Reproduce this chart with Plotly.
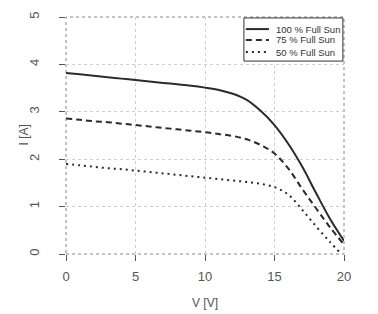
import plotly.graph_objects as go

V = [0, 1, 2, 3, 4, 5, 6, 7, 8, 9, 10, 11, 12, 13, 14, 15, 16, 17, 18, 19, 20]
I_100 = [3.82, 3.79, 3.76, 3.73, 3.70, 3.67, 3.64, 3.61, 3.58, 3.55, 3.51, 3.46, 3.38, 3.25, 3.02, 2.72, 2.32, 1.84, 1.28, 0.74, 0.28]
I_75 = [2.86, 2.83, 2.80, 2.78, 2.75, 2.72, 2.69, 2.66, 2.63, 2.60, 2.57, 2.53, 2.49, 2.42, 2.30, 2.12, 1.80, 1.37, 0.96, 0.56, 0.20]
V_50 = [0, 1, 2, 3, 4, 5, 6, 7, 8, 9, 10, 11, 12, 13, 14, 15, 16, 17, 18, 19, 19.8]
I_50 = [1.90, 1.87, 1.84, 1.81, 1.79, 1.76, 1.73, 1.70, 1.67, 1.64, 1.61, 1.58, 1.55, 1.52, 1.48, 1.41, 1.25, 0.93, 0.58, 0.25, 0.0]
names = ["100 % Full Sun", "75 % Full Sun", "50 % Full Sun"]
dashes = ["solid", "6px,4px", "2px,4px"]
x_ticks = [0, 5, 10, 15, 20]
y_ticks = [0, 1, 2, 3, 4, 5]

col = "#2b2b2b"
gray = "#555555"
fig = go.Figure()
for xs, ys, nm, dsh in [(V, I_100, names[0], dashes[0]),
                        (V, I_75, names[1], dashes[1]),
                        (V_50, I_50, names[2], dashes[2])]:
    fig.add_trace(go.Scatter(x=xs, y=ys, mode="lines", name=nm, showlegend=False,
                             line=dict(color=col, width=2, dash=dsh, shape="spline", smoothing=1.0)))

# outer dotted frame
fig.add_shape(type="rect", xref="paper", yref="paper", x0=0, y0=0, x1=1, y1=1,
              line=dict(color="#888888", width=1, dash="dot"), layer="below")

# compact legend box (R style)
fig.add_shape(type="rect", xref="paper", yref="paper", x0=0.640, x1=0.996, y0=0.814, y1=0.996,
              line=dict(color="#333333", width=1), fillcolor="white", layer="above")
ly = [0.949, 0.903, 0.852]
for k in range(3):
    fig.add_shape(type="line", xref="paper", yref="paper", x0=0.647, x1=0.730, y0=ly[k], y1=ly[k],
                  line=dict(color=col, width=2, dash=dashes[k]), layer="above")
    fig.add_annotation(xref="paper", yref="paper", x=0.748, y=ly[k], text=names[k],
                       showarrow=False, xanchor="left", yanchor="middle",
                       font=dict(family="Liberation Sans, Arial", size=9.5, color="#333333"))

# axis titles
fig.add_annotation(xref="paper", yref="paper", x=0.5, y=0, yshift=-49, text="V [V]",
                   showarrow=False, xanchor="center", yanchor="middle",
                   font=dict(family="Liberation Sans, Arial", size=12, color=gray))
fig.add_annotation(xref="paper", yref="paper", x=0, y=0.5, xshift=-43, text="I [A]",
                   showarrow=False, xanchor="center", yanchor="middle", textangle=-90,
                   font=dict(family="Liberation Sans, Arial", size=12, color=gray))

fig.update_layout(
    width=378, height=314,
    margin=dict(l=66, r=34, t=17, b=60),
    paper_bgcolor="white", plot_bgcolor="white",
    font=dict(family="Liberation Sans, Arial", size=13, color=gray),
    showlegend=False,
    xaxis=dict(range=[0, 20], tickvals=x_ticks, showgrid=True,
               gridcolor="#cfcfcf", griddash="3px,3px", gridwidth=1, zeroline=False,
               ticks="outside", ticklen=6, tickcolor=gray, ticklabelstandoff=4,
               showline=False),
    yaxis=dict(range=[0, 5], tickvals=y_ticks, showgrid=True,
               gridcolor="#cfcfcf", griddash="3px,3px", gridwidth=1, zeroline=False,
               ticks="outside", ticklen=6, tickcolor=gray, tickangle=-90, ticklabelstandoff=15,
               showline=False),
)
fig.write_html("out.html")
